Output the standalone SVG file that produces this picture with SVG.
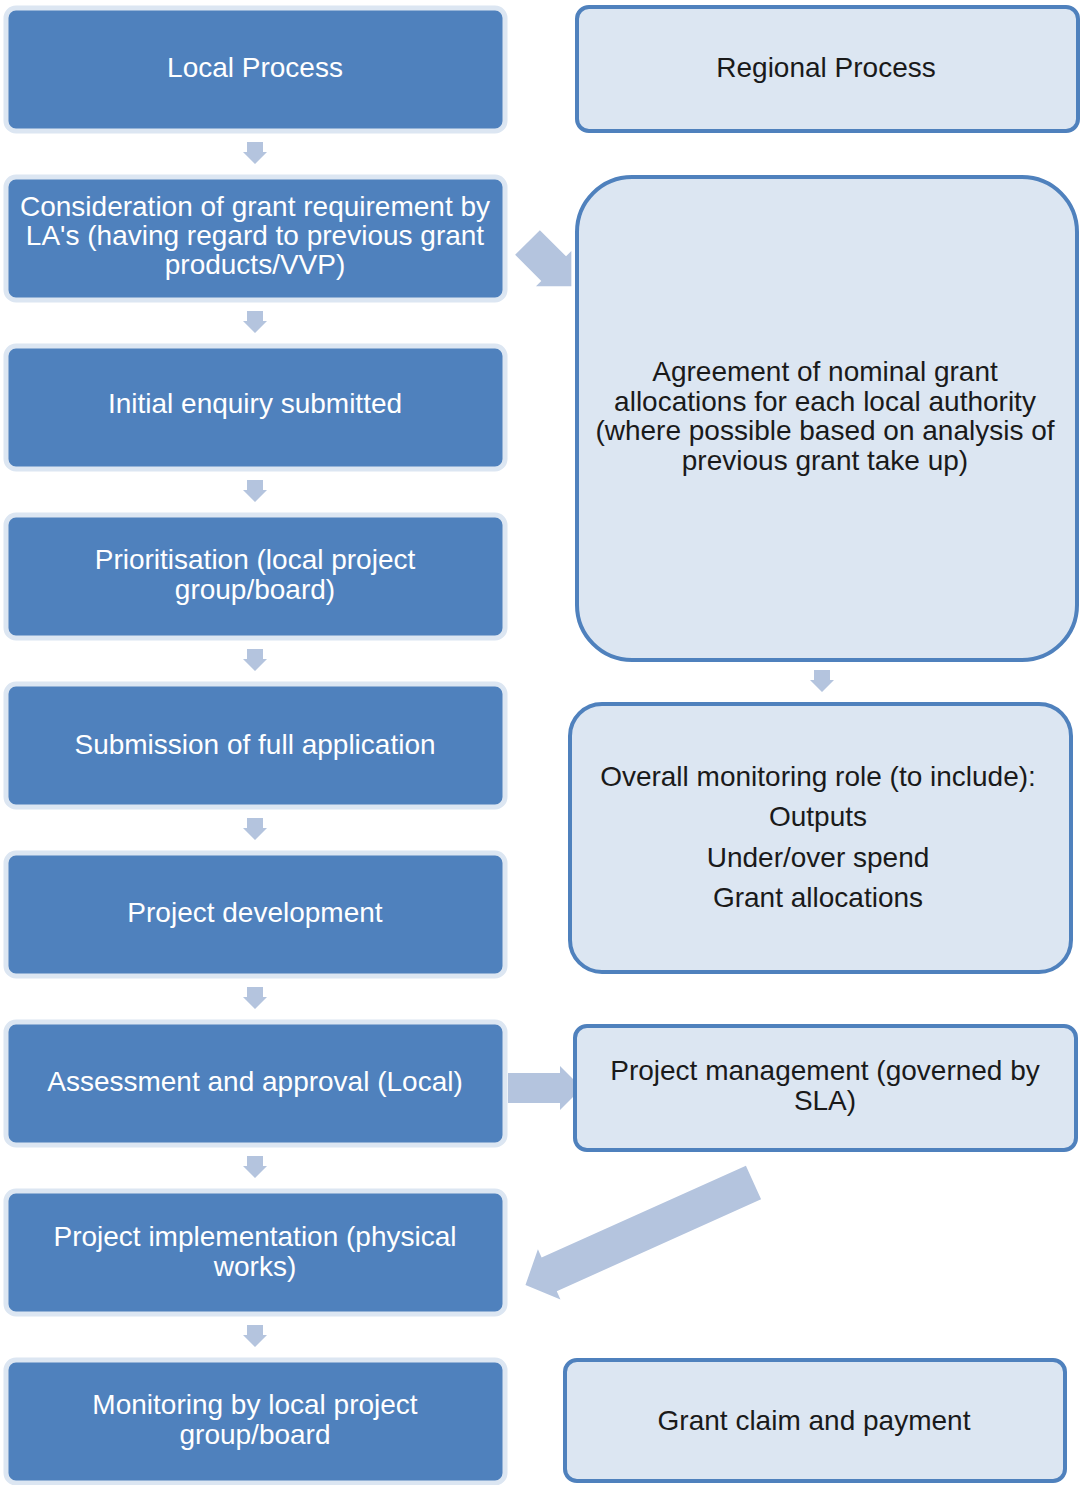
<svg xmlns="http://www.w3.org/2000/svg" width="1081" height="1485" viewBox="0 0 1081 1485">
<style>
.local rect{fill:#4f81bd;stroke:#dce6f2;stroke-width:5}
.region rect{fill:#dce6f2;stroke:#4f81bd;stroke-width:4}
.lt{font-family:"Liberation Sans",Arial,sans-serif;font-size:28px;fill:#ffffff;text-anchor:middle}
.rt{font-family:"Liberation Sans",Arial,sans-serif;font-size:28px;fill:#1a1a1a;text-anchor:middle}
.arr{fill:#b4c4de}
</style>
<defs>
<polygon id="down" points="-8,0 8,0 8,10 12,10 0,22 -12,10 -8,10"/>
</defs>
<g id="connectors">
<use href="#down" class="arr" x="255" y="142"/>
<use href="#down" class="arr" x="255" y="311"/>
<use href="#down" class="arr" x="255" y="480"/>
<use href="#down" class="arr" x="255" y="649"/>
<use href="#down" class="arr" x="255" y="818"/>
<use href="#down" class="arr" x="255" y="987"/>
<use href="#down" class="arr" x="255" y="1156"/>
<use href="#down" class="arr" x="255" y="1325"/>
<use href="#down" class="arr" x="822" y="670"/>
<polygon class="arr" points="0,-17.5 37,-17.5 37,-25 62,0 37,25 37,17.5 0,17.5" transform="translate(527.5,242.5) rotate(45)"/>
<polygon class="arr" points="508,1073 560,1073 560,1066 582,1088 560,1110 560,1103 508,1103"/>
<polygon class="arr" points="0,-18.5 224,-18.5 224,-27.5 250,0 224,27.5 224,18.5 0,18.5" transform="translate(753.5,1182.5) rotate(155.8)"/>
</g>
<g id="local-process" class="local"><rect x="6" y="8" width="499" height="123" rx="10"/><text class="lt" x="255" y="77">Local Process</text></g>
<g id="consideration" class="local"><rect x="6" y="177" width="499" height="123" rx="10"/><text class="lt" x="255" y="216">Consideration of grant requirement by</text><text class="lt" x="255" y="245">LA's (having regard to previous grant</text><text class="lt" x="255" y="274">products/VVP)</text></g>
<g id="initial-enquiry" class="local"><rect x="6" y="346" width="499" height="123" rx="10"/><text class="lt" x="255" y="413">Initial enquiry submitted</text></g>
<g id="prioritisation" class="local"><rect x="6" y="515" width="499" height="123" rx="10"/><text class="lt" x="255" y="569">Prioritisation (local project</text><text class="lt" x="255" y="599">group/board)</text></g>
<g id="submission" class="local"><rect x="6" y="684" width="499" height="123" rx="10"/><text class="lt" x="255" y="754">Submission of full application</text></g>
<g id="project-development" class="local"><rect x="6" y="853" width="499" height="123" rx="10"/><text class="lt" x="255" y="922">Project development</text></g>
<g id="assessment" class="local"><rect x="6" y="1022" width="499" height="123" rx="10"/><text class="lt" x="255" y="1091">Assessment and approval (Local)</text></g>
<g id="implementation" class="local"><rect x="6" y="1191" width="499" height="123" rx="10"/><text class="lt" x="255" y="1246">Project implementation (physical</text><text class="lt" x="255" y="1276">works)</text></g>
<g id="monitoring-local" class="local"><rect x="6" y="1360" width="499" height="123" rx="10"/><text class="lt" x="255" y="1414">Monitoring by local project</text><text class="lt" x="255" y="1444">group/board</text></g>
<g id="regional-process" class="region"><rect x="577" y="7" width="501" height="124" rx="12"/><text class="rt" x="826" y="77">Regional Process</text></g>
<g id="agreement" class="region"><rect x="577" y="177" width="500" height="483" rx="55"/><text class="rt" x="825" y="381">Agreement of nominal grant</text><text class="rt" x="825" y="411">allocations for each local authority</text><text class="rt" x="825" y="440">(where possible based on analysis of</text><text class="rt" x="825" y="470">previous grant take up)</text></g>
<g id="overall-monitoring" class="region"><rect x="570" y="704" width="501" height="268" rx="32"/><text class="rt" x="818" y="786">Overall monitoring role (to include):</text><text class="rt" x="818" y="826">Outputs</text><text class="rt" x="818" y="867">Under/over spend</text><text class="rt" x="818" y="907">Grant allocations</text></g>
<g id="project-management" class="region"><rect x="575" y="1026" width="501" height="124" rx="12"/><text class="rt" x="825" y="1080">Project management (governed by</text><text class="rt" x="825" y="1110">SLA)</text></g>
<g id="grant-claim" class="region"><rect x="565" y="1360" width="500" height="121" rx="12"/><text class="rt" x="814" y="1430">Grant claim and payment</text></g>
</svg>
